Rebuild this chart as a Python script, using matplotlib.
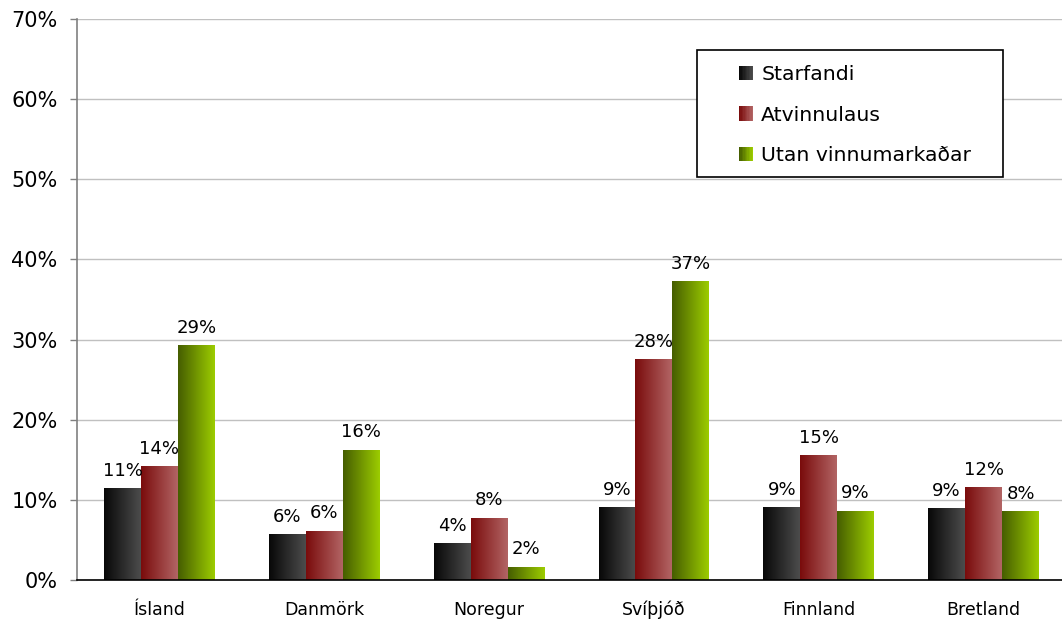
import matplotlib
matplotlib.use('Agg')
import matplotlib.pyplot as plt
import numpy as np
from matplotlib.colors import LinearSegmentedColormap
from matplotlib.legend_handler import HandlerBase
from matplotlib.patches import Rectangle, Patch

# Data
countries = ['Ísland', 'Danmörk', 'Noregur', 'Svíþjóð', 'Finnland', 'Bretland']
series_names = ['Starfandi', 'Atvinnulaus', 'Utan vinnumarkaðar']
starfandi = [11.4, 5.7, 4.5, 9.0, 9.0, 8.9]
atvinnulaus = [14.1, 6.1, 7.7, 27.5, 15.5, 11.5]
utan = [29.2, 16.2, 1.6, 37.2, 8.6, 8.5]
labels_starfandi = ['11%', '6%', '4%', '9%', '9%', '9%']
labels_atvinnulaus = ['14%', '6%', '8%', '28%', '15%', '12%']
labels_utan = ['29%', '16%', '2%', '37%', '9%', '8%']
yticks = [0, 10, 20, 30, 40, 50, 60, 70]

# gradient colours (left -> right)
grads = [('#080808', '#4c4c4c'), ('#7a0c0c', '#b26464'), ('#465e00', '#9ccc00')]

fig = plt.figure(figsize=(10.62, 6.24), dpi=100)
ax = fig.add_axes([77/1062, 44/624, (1066-77)/1062, (580-19)/624])

x = np.arange(len(countries))
w = 0.224
offsets = [-w, 0, w]
all_vals = [starfandi, atvinnulaus, utan]
all_labels = [labels_starfandi, labels_atvinnulaus, labels_utan]

grad = np.linspace(0, 1, 64).reshape(1, -1)
for vals, labs, off, (c0, c1) in zip(all_vals, all_labels, offsets, grads):
    cmap = LinearSegmentedColormap.from_list('g', [c0, c1])
    bars = ax.bar(x + off, vals, width=w, color='none', edgecolor='none', zorder=3)
    for b, lab in zip(bars, labs):
        x0 = b.get_x()
        h = b.get_height()
        ax.imshow(grad, extent=[x0, x0 + w, 0, h], aspect='auto', cmap=cmap,
                  zorder=3, interpolation='bilinear')
        ax.text(x0 + w / 2, h + 1.1, lab, ha='center', va='bottom', fontsize=13, zorder=4)

ax.set_xlim(-0.5, len(countries) - 0.5)
ax.set_ylim(0, 70)
ax.set_yticks(yticks)
ax.set_yticklabels([f'{t}%' for t in yticks], fontsize=15)
ax.set_xticks(x)
ax.set_xticklabels(countries, fontsize=12.5)
ax.tick_params(axis='x', length=0, pad=15)
ax.tick_params(axis='y', length=5, width=1, color='#808080', pad=9, direction='out')
ax.yaxis.grid(True, color='#c0c0c0', linewidth=1, zorder=0)
ax.set_axisbelow(True)
for s in ['top', 'right']:
    ax.spines[s].set_visible(False)
ax.spines['left'].set_color('#808080')
ax.spines['left'].set_linewidth(1.2)
ax.spines['bottom'].set_color('black')
ax.spines['bottom'].set_linewidth(1.2)
ax.spines['bottom'].set_zorder(5)


class GradHandler(HandlerBase):
    def __init__(self, c0, c1):
        super().__init__()
        self.cmap = LinearSegmentedColormap.from_list('h', [c0, c1])

    def create_artists(self, legend, orig_handle, xdescent, ydescent, width, height, fontsize, trans):
        n = 10
        side = height * 1.0
        x0 = width - side
        y0 = (height - side) / 2
        arts = []
        for i in range(n):
            r = Rectangle((x0 + i * side / n, y0), side / n + 0.05, side,
                          facecolor=self.cmap(i / (n - 1)), edgecolor='none', transform=trans)
            arts.append(r)
        return arts


# legend frame
frame = Rectangle((697/1062, 1 - 177/624), (1003-697)/1062, (177-50)/624,
                  transform=fig.transFigure, facecolor='white', edgecolor='black',
                  linewidth=1.2, zorder=6, clip_on=False)
ax.add_artist(frame)

handles = [Patch(label=n) for n in series_names]
leg = ax.legend(handles, series_names, loc='upper left',
                bbox_to_anchor=((697-77)/989, (580-50)/561),
                fontsize=14.7, frameon=False,
                handler_map={h: GradHandler(*g) for h, g in zip(handles, grads)},
                handlelength=2.0, handletextpad=0.4, labelspacing=1.05,
                borderpad=0.75, borderaxespad=0)
leg.set_zorder(7)

fig.savefig('out.png', dpi=100, facecolor='white')
